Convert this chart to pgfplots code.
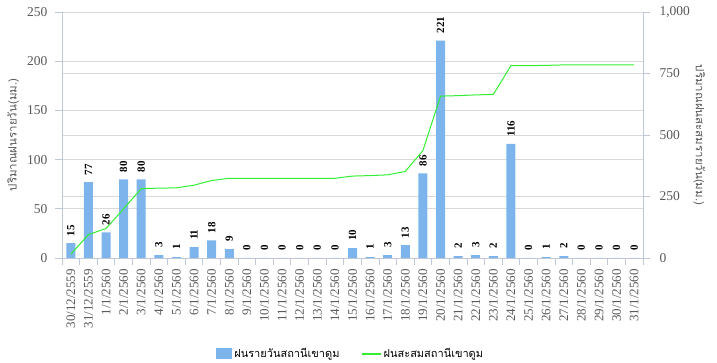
\documentclass[border=0pt]{standalone}
\usepackage{fontspec}
\setmainfont{Liberation Serif}
\newfontfamily\thaifont[Script=Thai]{Loma}
\usepackage{pgfplots}
\pgfplotsset{compat=1.18}
\definecolor{barblue}{HTML}{7CB4EB}
\definecolor{linegreen}{HTML}{33EE33}
\definecolor{axisgray}{HTML}{BFC8D8}
\definecolor{gridgray}{HTML}{D9D9D9}
\definecolor{textgray}{HTML}{595959}
\pgfplotsset{
  base/.style={scale only axis, width=581pt, height=246pt, xmin=-0.5, xmax=32.5,
    at={(0pt,0pt)}, anchor=south west,
    /pgf/number format/assume math mode=true,
    tick label style={font=\fontsize{13.5}{14}\selectfont, text=textgray},
    axis line style={draw=axisgray, -},
    tick style={draw=axisgray, line width=0.8pt},
    major tick length=7pt,
    tick align=outside,
    grid style={gridgray, line width=0.8pt},
  }
}
\begin{document}
\begin{tikzpicture}
\path[use as bounding box] (-62pt,-105pt) rectangle (655pt,258pt);
% right axis with its grid
\begin{axis}[base, ymin=0, ymax=1000, ytick={0,250,...,1000},
  axis y line*=right, axis x line=none, ymajorgrids,
  yticklabel style={xshift=6pt},
  ylabel={\thaifont ปริมาณฝนสะสมรายวัน(มม.)},
  every axis y label/.style={at={(axis description cs:1.097,0.5)}, rotate=-90, anchor=center,
    font=\fontsize{11.5}{12}\selectfont, text=textgray},
]
\end{axis}
% bars, left axis
\begin{axis}[base, ymin=0, ymax=250, ytick={0,50,...,250},
  axis y line*=left, axis x line*=bottom, ymajorgrids,
  yticklabel style={xshift=-4pt},
  xtick={-0.5,0.5,...,32.5}, xticklabels={},
  extra x ticks={0,1,...,32},
  extra x tick labels={30/12/2559,31/12/2559,1/1/2560,2/1/2560,3/1/2560,4/1/2560,5/1/2560,6/1/2560,7/1/2560,8/1/2560,9/1/2560,10/1/2560,11/1/2560,12/1/2560,13/1/2560,14/1/2560,15/1/2560,16/1/2560,17/1/2560,18/1/2560,19/1/2560,20/1/2560,21/1/2560,22/1/2560,23/1/2560,24/1/2560,25/1/2560,26/1/2560,27/1/2560,28/1/2560,29/1/2560,30/1/2560,31/1/2560},
  extra x tick style={major tick length=0pt, tick label style={rotate=90, anchor=east, inner xsep=11pt, font=\fontsize{13}{14}\selectfont}},
  ylabel={\thaifont ปริมาณฝนรายวัน(มม.)},
  every axis y label/.style={at={(axis description cs:-0.084,0.5)}, rotate=90, anchor=center,
    font=\fontsize{11.5}{12}\selectfont, text=textgray},
  ybar, bar width=9pt,
  nodes near coords,
  every node near coord/.append style={rotate=90, anchor=west, font=\bfseries\fontsize{11}{12}\selectfont,
    text=black, inner xsep=7pt, inner ysep=0pt},
  legend style={at={(0.497,-0.39)}, anchor=center, draw=none, fill=none,
    font=\thaifont\fontsize{11}{12}\selectfont, legend columns=2,
    /tikz/every even column/.append style={column sep=20pt}},
  legend cell align=left,
]
\addplot[fill=barblue, draw=none,
  legend image code/.code={\fill[barblue] (0pt,-5.5pt) rectangle (16pt,6pt);}]
coordinates {
(0,15) (1,77) (2,26) (3,80) (4,80) (5,3) (6,1) (7,11) (8,18) (9,9)
(10,0) (11,0) (12,0) (13,0) (14,0) (15,0) (16,10) (17,1) (18,3) (19,13)
(20,86) (21,221) (22,2) (23,3) (24,2) (25,116) (26,0) (27,1) (28,2) (29,0)
(30,0) (31,0) (32,0)};
\addlegendentry{ฝนรายวันสถานีเขาดูม}
\addlegendimage{linegreen, line width=1.2pt, solid, mark=none,
  legend image code/.code={\draw[linegreen, line width=1.2pt] (0pt,0pt) -- (19pt,0pt);}}
\addlegendentry{ฝนสะสมสถานีเขาดูม}
\end{axis}
% cumulative line
\begin{axis}[base, ymin=0, ymax=1000, hide axis]
\addplot[linegreen, line width=1pt, mark=none] coordinates {
(0,15) (1,95) (2,120) (3,200) (4,282) (5,284) (6,285) (7,296) (8,315) (9,324)
(10,324) (11,324) (12,324) (13,324) (14,324) (15,324) (16,333) (17,335) (18,338) (19,352)
(20,437) (21,658) (22,660) (23,663) (24,665) (25,782) (26,782) (27,783) (28,785) (29,785)
(30,785) (31,785) (32,785)};
\end{axis}
\end{tikzpicture}
\end{document}
